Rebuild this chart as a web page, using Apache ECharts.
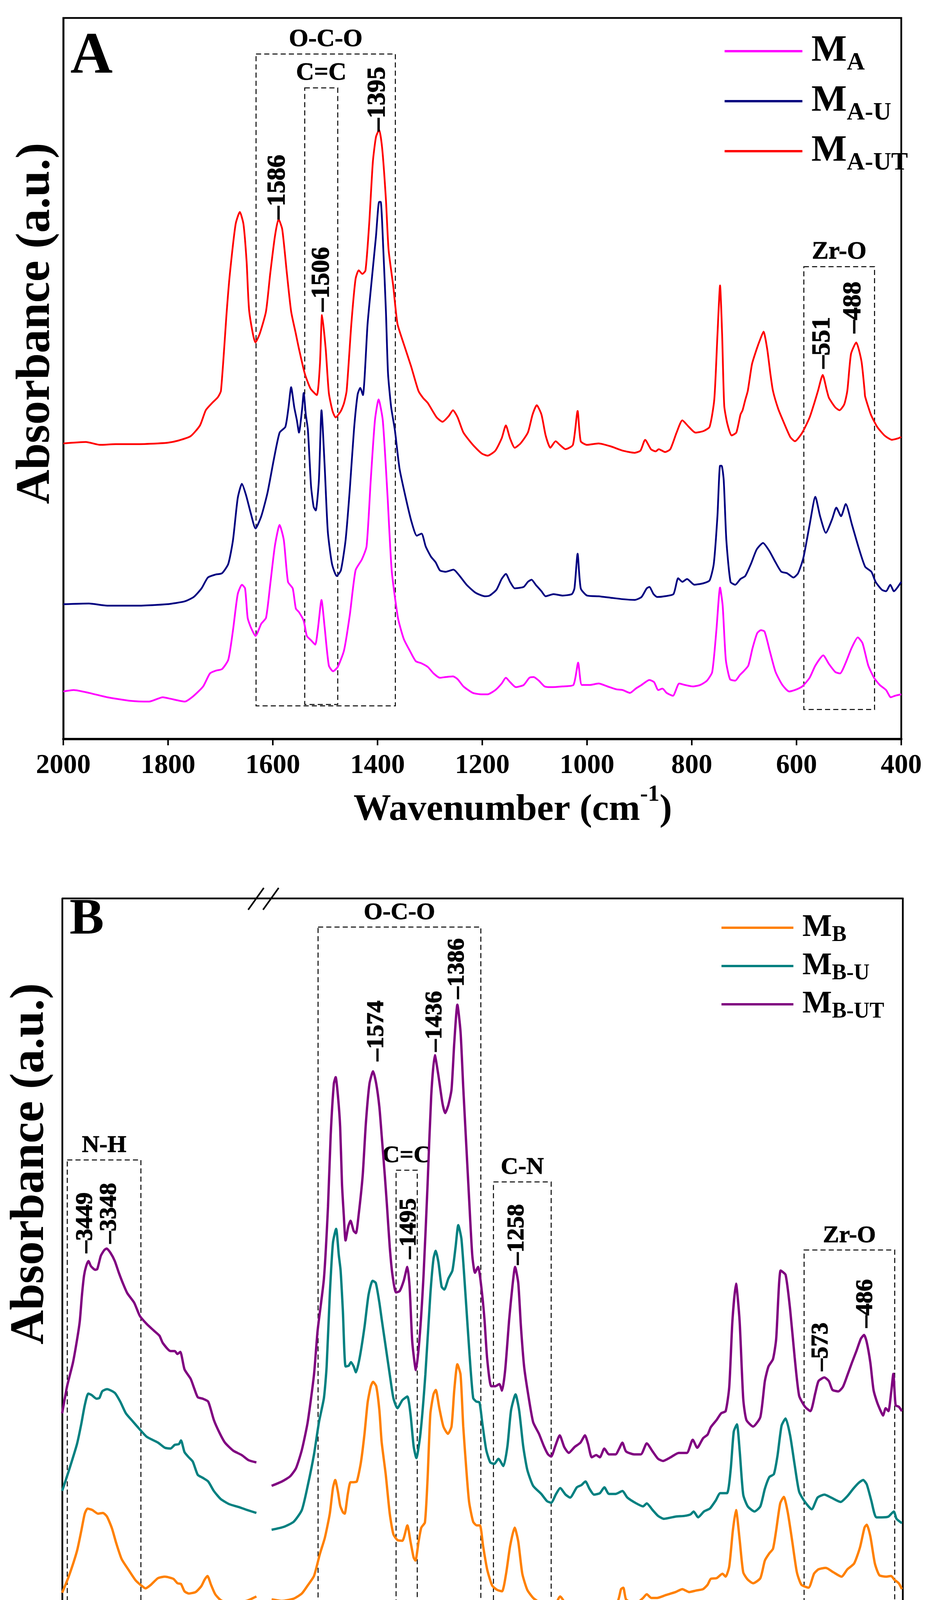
<!DOCTYPE html>
<html><head><meta charset="utf-8">
<script src="https://cdn.jsdelivr.net/npm/echarts@6/dist/echarts.min.js"></script>
<style>html,body{margin:0;padding:0;background:#fff}#c{width:2400px;height:4396px}</style>
</head><body><div id="c"></div>
<script>
// ---------------- Panel A data (wavenumber, absorbance a.u.) ----------------
const MA = [[2000,6.6],[1980,6.8],[1951,6.4],[1916,5.8],[1871,5.3],[1836,5.2],[1810,5.8],[1796,5.6],[1768,5.2],[1751,6.0],[1733,7.3],[1720,9.1],[1708,9.5],[1697,9.7],[1685,11.0],[1676,15.1],[1667,20.1],[1659,21.4],[1653,20.9],[1648,16.8],[1642,15.5],[1633,14.3],[1622,16.0],[1613,16.8],[1605,21.4],[1596,26.8],[1587,29.7],[1579,27.6],[1571,21.8],[1562,20.9],[1556,18.1],[1550,17.6],[1541,16.4],[1535,14.3],[1527,13.7],[1519,13.1],[1514,15.2],[1507,19.3],[1501,15.5],[1493,10.2],[1485,9.4],[1476,10.0],[1464,12.3],[1453,17.2],[1442,23.4],[1430,24.9],[1421,26.7],[1413,35.9],[1405,44.2],[1398,47.1],[1390,44.2],[1381,33.8],[1373,23.4],[1361,16.8],[1350,13.9],[1338,12.2],[1327,10.8],[1316,10.5],[1304,10.0],[1293,9.1],[1281,8.5],[1270,8.6],[1256,8.7],[1247,8.3],[1236,7.3],[1218,6.4],[1201,6.2],[1190,6.2],[1175,6.8],[1163,7.7],[1155,8.5],[1147,7.9],[1136,7.2],[1121,7.5],[1110,8.5],[1102,8.6],[1092,8.1],[1081,7.3],[1070,7.2],[1047,7.3],[1026,7.5],[1017,10.6],[1010,7.5],[995,7.5],[978,7.7],[961,7.3],[944,6.9],[932,6.8],[918,6.4],[907,7.0],[896,7.5],[881,8.2],[872,7.9],[864,6.8],[856,7.0],[848,6.4],[836,6.0],[824,7.7],[813,7.5],[798,7.3],[784,7.5],[771,8.1],[761,9.3],[753,15.1],[746,21.0],[741,18.5],[735,11.0],[727,8.3],[717,8.1],[708,8.9],[701,9.4],[692,10.2],[684,12.6],[675,14.7],[668,15.1],[661,14.9],[651,12.2],[640,9.3],[627,7.5],[614,6.6],[603,6.8],[589,7.3],[575,8.5],[564,10.2],[549,11.6],[538,10.4],[526,9.3],[517,9.1],[506,10.6],[495,12.6],[483,14.1],[474,13.3],[463,10.2],[452,8.5],[441,7.5],[429,6.8],[420,5.8],[412,6.0],[400,6.2]];
const MA_U = [[2000,18.7],[1951,18.8],[1916,18.5],[1859,18.5],[1802,18.7],[1768,19.1],[1751,19.7],[1736,20.9],[1724,22.4],[1710,22.8],[1697,23.0],[1685,24.3],[1676,27.6],[1667,33.4],[1659,35.4],[1651,33.8],[1642,31.3],[1633,29.2],[1622,30.9],[1610,34.2],[1598,38.8],[1587,42.5],[1576,43.3],[1570,46.0],[1565,48.8],[1559,46.0],[1554,44.2],[1550,42.5],[1544,45.8],[1541,48.0],[1537,45.0],[1533,42.9],[1527,35.1],[1522,32.2],[1518,31.7],[1512,35.9],[1507,45.6],[1501,37.9],[1495,28.8],[1487,24.3],[1478,22.6],[1470,23.4],[1461,27.6],[1453,34.6],[1445,42.9],[1438,47.8],[1433,48.7],[1428,47.7],[1419,57.6],[1410,64.5],[1403,69.7],[1397,74.5],[1394,74.5],[1389,67.9],[1384,59.3],[1380,50.7],[1374,46.0],[1367,42.9],[1358,37.5],[1346,33.4],[1335,30.1],[1325,28.2],[1316,28.5],[1308,26.7],[1298,25.3],[1289,24.5],[1281,23.4],[1270,23.2],[1255,23.5],[1243,22.6],[1230,21.4],[1213,20.3],[1195,19.8],[1186,19.9],[1173,20.7],[1163,22.2],[1155,22.9],[1147,21.8],[1138,20.9],[1121,21.1],[1113,21.8],[1106,22.1],[1098,21.4],[1087,20.5],[1079,19.8],[1064,20.1],[1047,19.9],[1029,20.1],[1024,20.9],[1018,25.7],[1012,20.9],[1000,19.9],[978,19.8],[955,19.6],[932,19.4],[909,19.3],[896,19.7],[886,20.9],[881,21.1],[873,20.1],[866,19.7],[852,19.8],[835,20.1],[826,22.3],[818,21.8],[809,22.2],[795,21.4],[778,21.6],[766,22.0],[758,24.3],[751,30.9],[746,37.9],[743,37.9],[739,35.9],[734,27.6],[726,21.8],[717,21.4],[707,22.2],[698,22.6],[687,24.3],[676,26.3],[664,27.2],[652,26.1],[640,24.5],[629,23.2],[618,23.0],[606,22.4],[597,23.0],[587,25.1],[575,29.7],[564,33.6],[555,30.9],[544,28.6],[532,30.5],[524,32.1],[515,30.9],[506,32.6],[494,29.7],[482,26.7],[469,23.9],[457,23.2],[449,21.8],[437,20.7],[429,20.5],[421,21.4],[414,20.5],[400,21.8]];
const MA_UT = [[2000,41.0],[1957,41.2],[1930,40.8],[1900,40.9],[1860,40.9],[1820,41.0],[1800,41.1],[1780,41.4],[1757,42.0],[1739,43.5],[1728,45.6],[1716,46.6],[1705,47.4],[1699,48.3],[1688,59.3],[1682,64.5],[1671,71.4],[1663,73.1],[1656,71.4],[1650,66.2],[1645,59.3],[1633,55.0],[1625,56.2],[1613,59.3],[1605,64.5],[1596,69.7],[1589,72.1],[1582,70.7],[1573,64.5],[1565,59.3],[1556,56.2],[1550,54.1],[1539,50.7],[1528,48.6],[1516,47.7],[1510,52.0],[1506,58.8],[1499,54.1],[1493,48.0],[1486,45.5],[1480,44.6],[1470,45.5],[1464,46.6],[1459,48.3],[1450,57.6],[1442,63.8],[1436,65.0],[1429,64.5],[1423,65.0],[1416,71.4],[1409,80.0],[1403,83.5],[1397,84.5],[1391,81.8],[1384,74.8],[1379,67.9],[1370,62.8],[1362,57.6],[1350,54.8],[1336,51.7],[1322,48.3],[1313,47.3],[1304,46.6],[1287,44.6],[1276,44.0],[1264,44.8],[1256,45.6],[1247,44.6],[1236,42.5],[1218,40.8],[1201,39.6],[1190,39.3],[1175,40.0],[1163,41.7],[1155,43.5],[1147,41.7],[1138,40.4],[1127,41.0],[1113,42.5],[1104,45.0],[1096,46.3],[1087,45.0],[1079,42.1],[1070,40.4],[1060,41.3],[1052,40.8],[1041,40.2],[1027,40.8],[1018,45.5],[1012,41.3],[1000,40.8],[978,41.0],[955,40.6],[932,40.0],[909,39.7],[898,40.0],[889,41.5],[878,40.2],[869,39.9],[863,40.2],[851,39.8],[841,40.2],[829,42.5],[818,44.2],[807,43.4],[793,42.5],[778,42.7],[766,43.3],[757,47.1],[751,56.0],[746,62.9],[742,56.0],[738,46.2],[732,43.7],[724,42.1],[715,42.5],[707,45.0],[703,45.6],[698,47.0],[693,48.3],[685,52.0],[676,54.1],[669,55.5],[663,56.5],[656,54.1],[650,50.7],[645,48.3],[635,45.8],[626,44.2],[612,41.9],[603,41.3],[589,42.5],[575,44.6],[566,46.6],[559,48.3],[550,50.5],[542,48.3],[538,47.3],[526,46.0],[518,45.6],[509,46.4],[503,48.3],[496,53.4],[486,55.0],[476,52.4],[470,48.3],[469,47.5],[458,45.0],[446,43.3],[432,42.1],[418,41.5],[406,41.7],[400,41.9]];

// ---------------- Panel B data (left: 3600-2500, right: 1800-400) ----------------
const MB_L = [[3600,5.2],[3563,7.4],[3516,10.9],[3492,13.6],[3472,16.0],[3456,16.7],[3429,16.5],[3397,16.0],[3369,16.1],[3346,15.6],[3318,14.0],[3294,12.0],[3263,9.8],[3223,8.3],[3184,6.9],[3152,6.2],[3128,5.8],[3097,6.3],[3057,7.2],[3018,7.4],[2970,7.1],[2947,6.5],[2927,6.4],[2907,5.4],[2883,5.1],[2844,5.3],[2812,6.1],[2793,7.0],[2777,7.5],[2757,6.3],[2733,5.0],[2702,4.2],[2646,3.7],[2591,3.9],[2544,4.2],[2500,4.7]];
const MBU_L = [[3600,19.1],[3563,21.8],[3516,25.5],[3492,28.2],[3472,30.8],[3452,32.4],[3433,32.2],[3405,31.7],[3389,31.8],[3373,32.7],[3346,33.0],[3302,32.5],[3271,31.3],[3239,29.7],[3200,28.6],[3160,27.5],[3121,26.5],[3057,25.7],[3018,25.0],[2986,24.9],[2962,25.4],[2939,25.5],[2927,26.0],[2907,24.4],[2883,23.7],[2860,23.1],[2832,21.3],[2804,20.9],[2773,20.4],[2741,19.1],[2702,18.0],[2654,17.3],[2599,16.9],[2552,16.5],[2500,16.1]];
const MBUT_L = [[3600,29.7],[3571,33.5],[3539,36.6],[3516,39.7],[3500,42.3],[3488,45.8],[3476,48.5],[3464,49.8],[3451,50.5],[3437,49.8],[3413,49.3],[3401,49.4],[3381,51.2],[3361,52.0],[3348,52.2],[3326,51.6],[3302,50.5],[3279,48.9],[3255,47.4],[3231,46.1],[3192,44.8],[3160,43.0],[3121,41.9],[3081,41.0],[3049,40.3],[3030,39.3],[2986,38.2],[2962,38.2],[2947,37.8],[2931,38.1],[2907,35.7],[2872,34.4],[2852,33.1],[2832,31.9],[2804,31.7],[2773,31.3],[2741,28.8],[2710,27.1],[2678,25.7],[2631,24.6],[2583,24.0],[2544,23.3],[2500,23.0]];
const MB_R = [[1800,4.3],[1777,4.1],[1751,4.4],[1733,5.1],[1720,6.2],[1706,7.5],[1693,10.5],[1682,12.7],[1671,16.0],[1664,19.5],[1659,20.6],[1653,19.0],[1648,17.1],[1642,16.2],[1638,16.0],[1631,18.7],[1625,20.3],[1618,20.3],[1611,20.4],[1602,23.0],[1594,26.9],[1587,31.2],[1580,33.4],[1575,34.0],[1568,33.4],[1561,30.1],[1556,25.8],[1547,21.4],[1538,16.0],[1530,13.2],[1521,12.4],[1510,12.3],[1499,14.4],[1492,12.2],[1485,10.0],[1481,9.6],[1474,12.2],[1468,14.1],[1460,14.8],[1454,20.9],[1448,29.6],[1441,32.3],[1436,32.9],[1428,30.4],[1419,27.9],[1409,26.9],[1401,27.9],[1395,32.8],[1388,36.4],[1381,35.0],[1375,27.9],[1368,21.9],[1362,17.6],[1353,14.9],[1345,14.4],[1338,14.4],[1331,11.6],[1322,8.4],[1311,6.2],[1300,5.6],[1289,5.4],[1280,7.8],[1271,11.6],[1261,14.1],[1253,12.2],[1244,7.8],[1233,5.6],[1220,4.5],[1207,3.9],[1194,3.2],[1181,2.8],[1171,3.5],[1160,4.7],[1148,3.7],[1138,3.3],[1123,3.4],[1108,3.7],[1098,3.5],[1087,3.2],[1067,3.3],[1047,3.7],[1032,4.1],[1025,5.7],[1020,5.9],[1014,4.3],[1001,3.9],[986,4.0],[976,4.5],[968,5.0],[958,4.5],[945,4.5],[925,4.9],[904,5.3],[889,5.7],[874,5.3],[859,5.5],[843,5.7],[833,6.3],[826,7.1],[813,7.2],[800,7.8],[793,7.4],[785,8.8],[777,13.7],[770,16.5],[762,12.5],[754,8.0],[744,7.0],[732,6.5],[716,7.2],[706,9.6],[696,10.6],[688,11.2],[681,13.7],[672,17.4],[664,18.3],[655,16.1],[645,12.1],[635,8.0],[625,6.3],[609,5.9],[597,7.8],[587,8.4],[571,8.6],[554,8.0],[536,7.4],[523,8.4],[508,9.2],[495,11.4],[485,14.1],[480,14.5],[472,12.9],[462,9.2],[452,7.6],[437,7.4],[426,7.5],[419,7.0],[409,6.5],[402,5.7]];
const MBU_R = [[1800,13.8],[1773,14.2],[1751,14.9],[1733,16.5],[1720,19.8],[1706,24.1],[1695,28.5],[1684,31.8],[1678,36.1],[1671,45.9],[1664,53.0],[1657,54.9],[1651,51.3],[1647,49.2],[1642,43.7],[1636,36.1],[1629,36.2],[1624,36.7],[1618,36.1],[1613,35.3],[1605,37.2],[1594,41.5],[1585,45.9],[1576,47.8],[1569,47.5],[1561,44.8],[1556,42.6],[1547,38.8],[1538,35.0],[1530,31.8],[1521,30.4],[1510,31.5],[1499,32.0],[1492,29.6],[1485,25.2],[1479,23.6],[1470,26.9],[1459,35.0],[1448,45.9],[1441,50.8],[1436,51.9],[1430,50.3],[1423,47.0],[1417,46.6],[1408,48.1],[1399,49.2],[1392,52.4],[1386,55.4],[1379,53.5],[1370,45.9],[1361,37.7],[1353,31.8],[1346,31.3],[1339,31.2],[1333,28.5],[1324,24.7],[1315,23.0],[1306,22.8],[1297,23.5],[1286,22.5],[1277,25.2],[1269,30.1],[1259,32.3],[1251,30.1],[1242,25.2],[1233,22.0],[1220,19.8],[1202,18.7],[1189,17.7],[1180,17.5],[1169,18.7],[1160,19.5],[1148,18.6],[1138,18.2],[1123,19.6],[1113,19.9],[1104,20.4],[1095,19.4],[1085,18.6],[1072,18.8],[1062,19.6],[1052,18.7],[1037,18.7],[1022,19.1],[1011,18.2],[991,17.4],[976,17.0],[968,17.4],[955,16.5],[943,15.7],[930,15.3],[904,15.6],[884,15.7],[871,15.9],[864,16.3],[854,15.5],[841,16.3],[828,16.7],[815,17.8],[805,18.8],[790,18.8],[782,21.9],[775,27.2],[768,28.2],[762,24.7],[754,18.6],[744,17.0],[729,16.3],[716,17.0],[706,19.4],[696,21.0],[686,21.4],[678,23.9],[669,28.0],[660,29.0],[650,26.7],[640,22.7],[630,19.0],[617,17.6],[602,16.6],[589,18.2],[574,18.6],[559,18.2],[538,17.6],[523,18.4],[510,19.4],[498,20.2],[488,20.6],[480,20.0],[470,17.8],[459,15.5],[447,15.5],[432,15.6],[420,16.3],[414,15.3],[402,14.7]];
const MBUT_R = [[1800,19.8],[1777,20.4],[1759,21.1],[1746,22.2],[1733,24.7],[1720,28.5],[1706,35.0],[1698,41.0],[1684,48.1],[1675,57.9],[1669,67.7],[1662,74.7],[1658,75.6],[1653,73.1],[1648,68.8],[1644,61.1],[1640,56.8],[1636,53.3],[1630,55.2],[1625,56.0],[1618,54.6],[1613,54.3],[1607,56.8],[1598,62.2],[1591,69.3],[1583,74.7],[1575,76.4],[1568,74.7],[1561,71.5],[1556,67.7],[1549,62.2],[1544,57.9],[1538,52.4],[1532,48.6],[1524,46.2],[1516,46.4],[1507,47.8],[1499,49.7],[1494,47.0],[1488,39.4],[1480,35.6],[1472,39.9],[1463,48.6],[1454,61.1],[1446,73.1],[1438,78.6],[1430,75.8],[1421,72.0],[1415,70.7],[1408,71.8],[1401,73.9],[1395,80.2],[1388,85.5],[1381,81.8],[1375,74.2],[1368,66.0],[1362,59.0],[1355,51.3],[1349,48.9],[1342,49.7],[1335,47.0],[1328,42.6],[1322,37.2],[1313,33.4],[1304,33.4],[1295,33.7],[1289,32.8],[1282,35.6],[1273,42.6],[1266,47.0],[1260,49.7],[1253,47.5],[1247,41.5],[1240,36.1],[1231,32.3],[1220,28.5],[1207,26.9],[1196,25.2],[1187,24.1],[1180,23.8],[1171,25.2],[1161,26.7],[1151,25.1],[1141,24.3],[1128,25.1],[1115,25.7],[1105,26.7],[1098,25.5],[1090,23.7],[1080,24.0],[1072,23.7],[1062,24.9],[1052,24.1],[1037,24.1],[1029,24.9],[1022,25.7],[1014,24.5],[996,24.1],[981,24.1],[968,25.6],[955,24.5],[943,23.5],[932,23.2],[915,23.7],[897,24.3],[879,24.3],[866,26.1],[856,25.0],[843,26.3],[833,26.8],[826,27.8],[813,28.8],[803,29.7],[793,30.0],[785,33.3],[778,42.3],[770,47.4],[762,42.3],[754,31.7],[747,28.8],[732,27.9],[716,29.2],[706,34.1],[698,36.1],[688,37.1],[681,39.8],[671,49.2],[660,48.6],[650,43.9],[640,37.4],[630,32.1],[617,30.6],[605,30.0],[594,32.5],[587,34.1],[574,34.6],[564,34.1],[556,32.9],[543,32.7],[533,33.3],[523,34.9],[513,36.6],[503,38.2],[493,39.9],[486,40.4],[480,39.4],[472,36.6],[465,32.9],[457,31.2],[449,30.0],[444,29.4],[438,30.4],[432,30.0],[426,32.5],[421,35.1],[416,30.8],[409,30.6],[402,30.0]];

// ---------------- tick labels ----------------
const ticksBLeft = [3000, 3500];
const ticksBRight = [500, 1000, 1500];

// ---------------- annotations: [x, y, label] and boxes [name, xFrom, xTo, yTop, yBottom] ----------------
const peaksA = [[1590,72.1,'1586'],[1506,59.3,'1506'],[1399,84.3,'1395'],[550,51.4,'551'],[491,56.3,'488']];
const peaksBL = [[3467,51.6,'3449'],[3332,52.9,'3348']];
const peaksBR = [[1567,77.8,'1574'],[1495,50.8,'1495'],[1438,79.1,'1436'],[1388,86.3,'1386'],[1256,50.0,'1258'],[581,35.5,'573'],[482,41.4,'486']];
const boxesA = [['O-C-O',1632,1366,95.0,4.6],['C=C',1539,1476,90.3,4.8],['Zr-O',586,451,65.5,4.1]];
const boxesBL = [['N-H',3571,3154,64.3,3.9]];
const boxesBR = [['O-C-O',1697,1336,96.1,3.1],['C=C',1524,1477,62.9,3.1],['C-N',1308,1180,61.3,3.1],['Zr-O',619,418,52.0,3.3]];

const FONT = '"Liberation Serif", "Times New Roman", serif';
const colors = {MA:'#FF00FF','MA-U':'#000080','MA-UT':'#FF0000',MB:'#FF8000','MB-U':'#008080','MB-UT':'#800080'};

function line(name, data, xi, w){
  return {type:'line', name, data, xAxisIndex:xi, yAxisIndex:xi, symbol:'none', showSymbol:false,
    smooth:0.2, lineStyle:{color:colors[name], width:w}, itemStyle:{color:colors[name]},
    z:3, silent:true, clip:true};
}
function boxes(list, fs){
  return {silent:true, itemStyle:{color:'rgba(0,0,0,0)', borderColor:'#000', borderWidth:2.5, borderType:[13,8]},
    label:{show:true, position:'top', distance:4, color:'#000', fontFamily:FONT, fontWeight:'bold', fontSize:fs,
      textBorderColor:'#000', textBorderWidth:1},
    data: list.map(b => [{name:b[0], xAxis:b[1], yAxis:b[3]}, {xAxis:b[2], yAxis:b[4]}])};
}
function peaks(list, xi, fs){
  return {type:'scatter', data:list, xAxisIndex:xi, yAxisIndex:xi, symbolSize:1,
    itemStyle:{color:'rgba(0,0,0,0)', opacity:1},
    silent:true, z:5,
    label:{show:true, position:'inside', align:'left', verticalAlign:'middle', rotate:90, opacity:1,
      formatter:p => '\u2013' + p.value[2], color:'#000', fontFamily:FONT, fontWeight:'bold', fontSize:fs,
      textBorderColor:'#000', textBorderWidth:1.5}};
}
const axisLabelStyle = {color:'#000', fontFamily:FONT, fontWeight:'bold', fontSize:70, formatter:v => String(v)};
const xNameRich = (fs, pad) => ({padding:pad, rich:{
  a:{fontFamily:FONT, fontWeight:'bold', fontSize:fs, color:'#000'},
  s:{fontFamily:FONT, fontWeight:'bold', fontSize:Math.round(fs*0.62), color:'#000', padding:[0,0,80,0]}}});
const xName = '{a|Wavenumber (cm}{s|-1}{a|)}';
const legendRich = (fm, fs, pt) => ({rich:{
  m:{fontFamily:FONT, fontWeight:'bold', fontSize:fm, color:'#000', lineHeight:fm, padding:[0,0,0,18]},
  s:{fontFamily:FONT, fontWeight:'bold', fontSize:fs, color:'#000', lineHeight:fs, padding:[pt,0,0,0]}}});

const option = {
  animation:false,
  backgroundColor:'#fff',
  grid:[
    {left:162, top:46, width:2144, height:1846, show:true, borderColor:'#000', borderWidth:4.5},
    {left:159, top:2300, width:497, height:1875},
    {left:695, top:2300, width:1615, height:1875}
  ],
  xAxis:[
    {gridIndex:0, type:'value', min:400, max:2000, interval:200, inverse:true,
     axisLine:{lineStyle:{color:'#000', width:6}}, axisTick:{length:16, lineStyle:{color:'#000', width:4}},
     axisLabel:Object.assign({margin:34}, axisLabelStyle), splitLine:{show:false},
     name:xName, nameLocation:'middle', nameGap:112, nameTextStyle:xNameRich(96,[0,0,0,156])},
    {gridIndex:1, type:'value', min:2500, max:3600, interval:500, inverse:true,
     axisLine:{lineStyle:{color:'#000', width:6}},
     axisTick:{length:26, lineStyle:{color:'#000', width:4}, customValues:ticksBLeft},
     axisLabel:Object.assign({margin:26, customValues:ticksBLeft}, axisLabelStyle), splitLine:{show:false}},
    {gridIndex:2, type:'value', min:400, max:1800, interval:100, inverse:true,
     axisLine:{lineStyle:{color:'#000', width:6}},
     axisTick:{length:26, lineStyle:{color:'#000', width:4}, customValues:ticksBRight},
     axisLabel:Object.assign({margin:26, customValues:ticksBRight}, axisLabelStyle), splitLine:{show:false},
     name:xName, nameLocation:'middle', nameGap:80, nameTextStyle:xNameRich(92,[0,608,0,0])}
  ],
  yAxis:[
    {gridIndex:0, type:'value', min:0, max:100, axisLabel:{show:false}, axisTick:{show:false}, splitLine:{show:false},
     axisLine:{show:true, lineStyle:{color:'#000', width:4.5}},
     name:'Absorbance (a.u.)', nameLocation:'middle', nameGap:8,
     nameTextStyle:{fontFamily:FONT, fontWeight:'bold', fontSize:122, color:'#000', padding:[0,0,0,282]}},
    {gridIndex:1, type:'value', min:0, max:100, axisLabel:{show:false}, axisTick:{show:false}, splitLine:{show:false},
     axisLine:{show:true, lineStyle:{color:'#000', width:4.5}},
     name:'Absorbance (a.u.)', nameLocation:'middle', nameGap:20,
     nameTextStyle:{fontFamily:FONT, fontWeight:'bold', fontSize:122, color:'#000', padding:[0,0,0,516]}},
    {gridIndex:2, type:'value', min:0, max:100, show:false}
  ],
  legend:[
    {data:['MA','MA-U','MA-UT'], orient:'vertical', left:1849, top:64, itemWidth:199, itemHeight:6, itemGap:4,
     icon:'rect', selectedMode:false, formatter:n => '{m|M}{s|' + n.slice(1) + '}', textStyle:legendRich(96,64,60)},
    {data:['MB','MB-U','MB-UT'], orient:'vertical', left:1841, top:2322, itemWidth:184, itemHeight:6, itemGap:2,
     icon:'rect', selectedMode:false, formatter:n => '{m|M}{s|' + n.slice(1) + '}', textStyle:legendRich(80,56,40)}
  ],
  series:[
    Object.assign(line('MA', MA, 0, 4.5), {markArea:boxes(boxesA, 64)}),
    line('MA-U', MA_U, 0, 4.5),
    line('MA-UT', MA_UT, 0, 4.5),
    peaks(peaksA, 0, 66),
    Object.assign(line('MB', MB_L, 1, 6), {markArea:boxes(boxesBL, 62)}),
    line('MB-U', MBU_L, 1, 6),
    line('MB-UT', MBUT_L, 1, 6),
    peaks(peaksBL, 1, 62),
    Object.assign(line('MB', MB_R, 2, 6), {markArea:boxes(boxesBR, 62)}),
    line('MB-U', MBU_R, 2, 6),
    line('MB-UT', MBUT_R, 2, 6),
    peaks(peaksBR, 2, 62)
  ],
  graphic:[
    {type:'text', left:180, top:72, style:{text:'A', font:'bold 150px ' + FONT, fill:'#000'}},
    {type:'text', left:178, top:2290, style:{text:'B', font:'bold 132px ' + FONT, fill:'#000'}},
    {type:'line', shape:{x1:159, y1:2300, x2:2310, y2:2300}, style:{stroke:'#000', lineWidth:4.5}},
    {type:'line', shape:{x1:2310, y1:2298, x2:2310, y2:4177}, style:{stroke:'#000', lineWidth:4.5}},
    {type:'line', shape:{x1:635, y1:2329, x2:675, y2:2273}, style:{stroke:'#000', lineWidth:4}},
    {type:'line', shape:{x1:673, y1:2329, x2:713, y2:2273}, style:{stroke:'#000', lineWidth:4}},
    {type:'line', shape:{x1:635, y1:4202, x2:676, y2:4148}, style:{stroke:'#000', lineWidth:4}},
    {type:'line', shape:{x1:672, y1:4202, x2:713, y2:4148}, style:{stroke:'#000', lineWidth:4}}
  ]
};
const chart = echarts.init(document.getElementById('c'), null, {renderer:'canvas'});
chart.setOption(option);
</script></body></html>
